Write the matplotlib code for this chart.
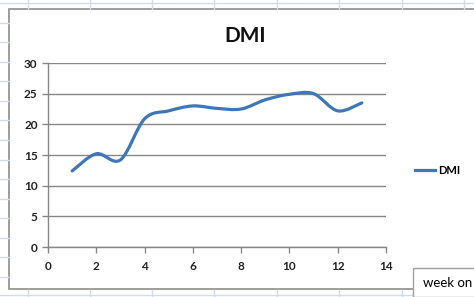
import numpy as np
import matplotlib
matplotlib.use("Agg")
from matplotlib import pyplot as plt
from matplotlib.path import Path
from matplotlib.patches import PathPatch, Rectangle
from matplotlib.lines import Line2D

plt.rcParams['font.family'] = ['Lato', 'DejaVu Sans']

# data
weeks = [1, 2, 3, 4, 5, 6, 7, 8, 9, 10, 11, 12, 13]
dmi = [12.4, 15.2, 14.2, 20.9, 22.2, 23.0, 22.6, 22.5, 24.0, 24.9, 25.0, 22.2, 23.5]
xticks = [0, 2, 4, 6, 8, 10, 12, 14]
yticks = [0, 5, 10, 15, 20, 25, 30]

blue = "#3f76b8"
grey = "#868686"


def smooth_path(xs, ys):
    # excel style smoothed line: bezier through points, catmull-rom controls
    pts = np.column_stack([xs, ys]).astype(float)
    verts = [pts[0]]
    codes = [Path.MOVETO]
    n = len(pts)
    for i in range(n - 1):
        p0 = pts[i - 1] if i > 0 else pts[i]
        p1 = pts[i]
        p2 = pts[i + 1]
        p3 = pts[i + 2] if i + 2 < n else pts[i + 1]
        c1 = p1 + (p2 - p0) / 6.0
        c2 = p2 - (p3 - p1) / 6.0
        verts += [c1, c2, p2]
        codes += [Path.CURVE4] * 3
    return Path(verts, codes)


fig = plt.figure(figsize=(4.74, 2.97), dpi=100)
W, H = 474.0, 297.0

# spreadsheet cells behind the chart
cell = "#d4dbe8"
for x in [28, 90, 152, 214, 277, 339, 402, 464]:
    fig.add_artist(Line2D([x / W, x / W], [1, 1 - 9 / H], color=cell, lw=1))
    fig.add_artist(Line2D([x / W, x / W], [1 - 290 / H, 0], color=cell, lw=1))
fig.add_artist(Line2D([0, 1], [1 - 3 / H, 1 - 3 / H], color=cell, lw=1))
fig.add_artist(Line2D([0, 1], [1 - 295 / H, 1 - 295 / H], color=cell, lw=1))
for y in [23, 42, 62, 81, 101, 120, 140, 160, 179, 199, 218, 238, 257, 277]:
    fig.add_artist(Line2D([0, 9 / W], [1 - y / H, 1 - y / H], color=cell, lw=1))

# chart area frame
fig.add_artist(Rectangle((9 / W, 1 - 289 / H), 1, 280 / H, facecolor="white",
                         edgecolor="#8c8c8c", lw=1.2, zorder=0))

ax = fig.add_axes([48 / W, 1 - 247 / H, 338 / W, 184 / H])
ax.set_xlim(0, 14)
ax.set_ylim(0, 30)
ax.set_xticks(xticks)
ax.set_yticks(yticks)
ax.set_facecolor("none")
ax.grid(axis="y", color=grey, lw=1)
ax.set_axisbelow(True)
for s in ["top", "right"]:
    ax.spines[s].set_visible(False)
for s in ["left", "bottom"]:
    ax.spines[s].set_color(grey)
    ax.spines[s].set_linewidth(1)
ax.tick_params(colors=grey, length=4, width=1, labelcolor="#222222", labelsize=8.5)
ax.tick_params(axis="x", pad=6)
for lab in ax.get_xticklabels() + ax.get_yticklabels():
    lab.set_fontweight("bold")

ax.add_patch(PathPatch(smooth_path(weeks, dmi), facecolor="none", edgecolor=blue,
                       lw=2.3, capstyle="round", joinstyle="round"))
ax.plot([], [], color=blue, lw=2.3, label="DMI")

fig.text(245 / W, 1 - 36 / H, "DMI", fontsize=15, fontweight="bold",
         ha="center", va="center", color="#111111")
leg = fig.legend(loc="center left", bbox_to_anchor=(405 / W, 1 - 170 / H), frameon=False,
                 fontsize=8, handlelength=1.8, handletextpad=0.3)
for t in leg.get_texts():
    t.set_fontweight("bold")

# neighbouring cell with text
fig.add_artist(Rectangle((413 / W, 0), 1, 1 - 268 / H, facecolor="white",
                         edgecolor="#a0a0a0", lw=1, zorder=5))
fig.text(423 / W, 1 - 283 / H, "week on", fontsize=9.5, va="center", zorder=6)

fig.savefig("out.png", dpi=100)
